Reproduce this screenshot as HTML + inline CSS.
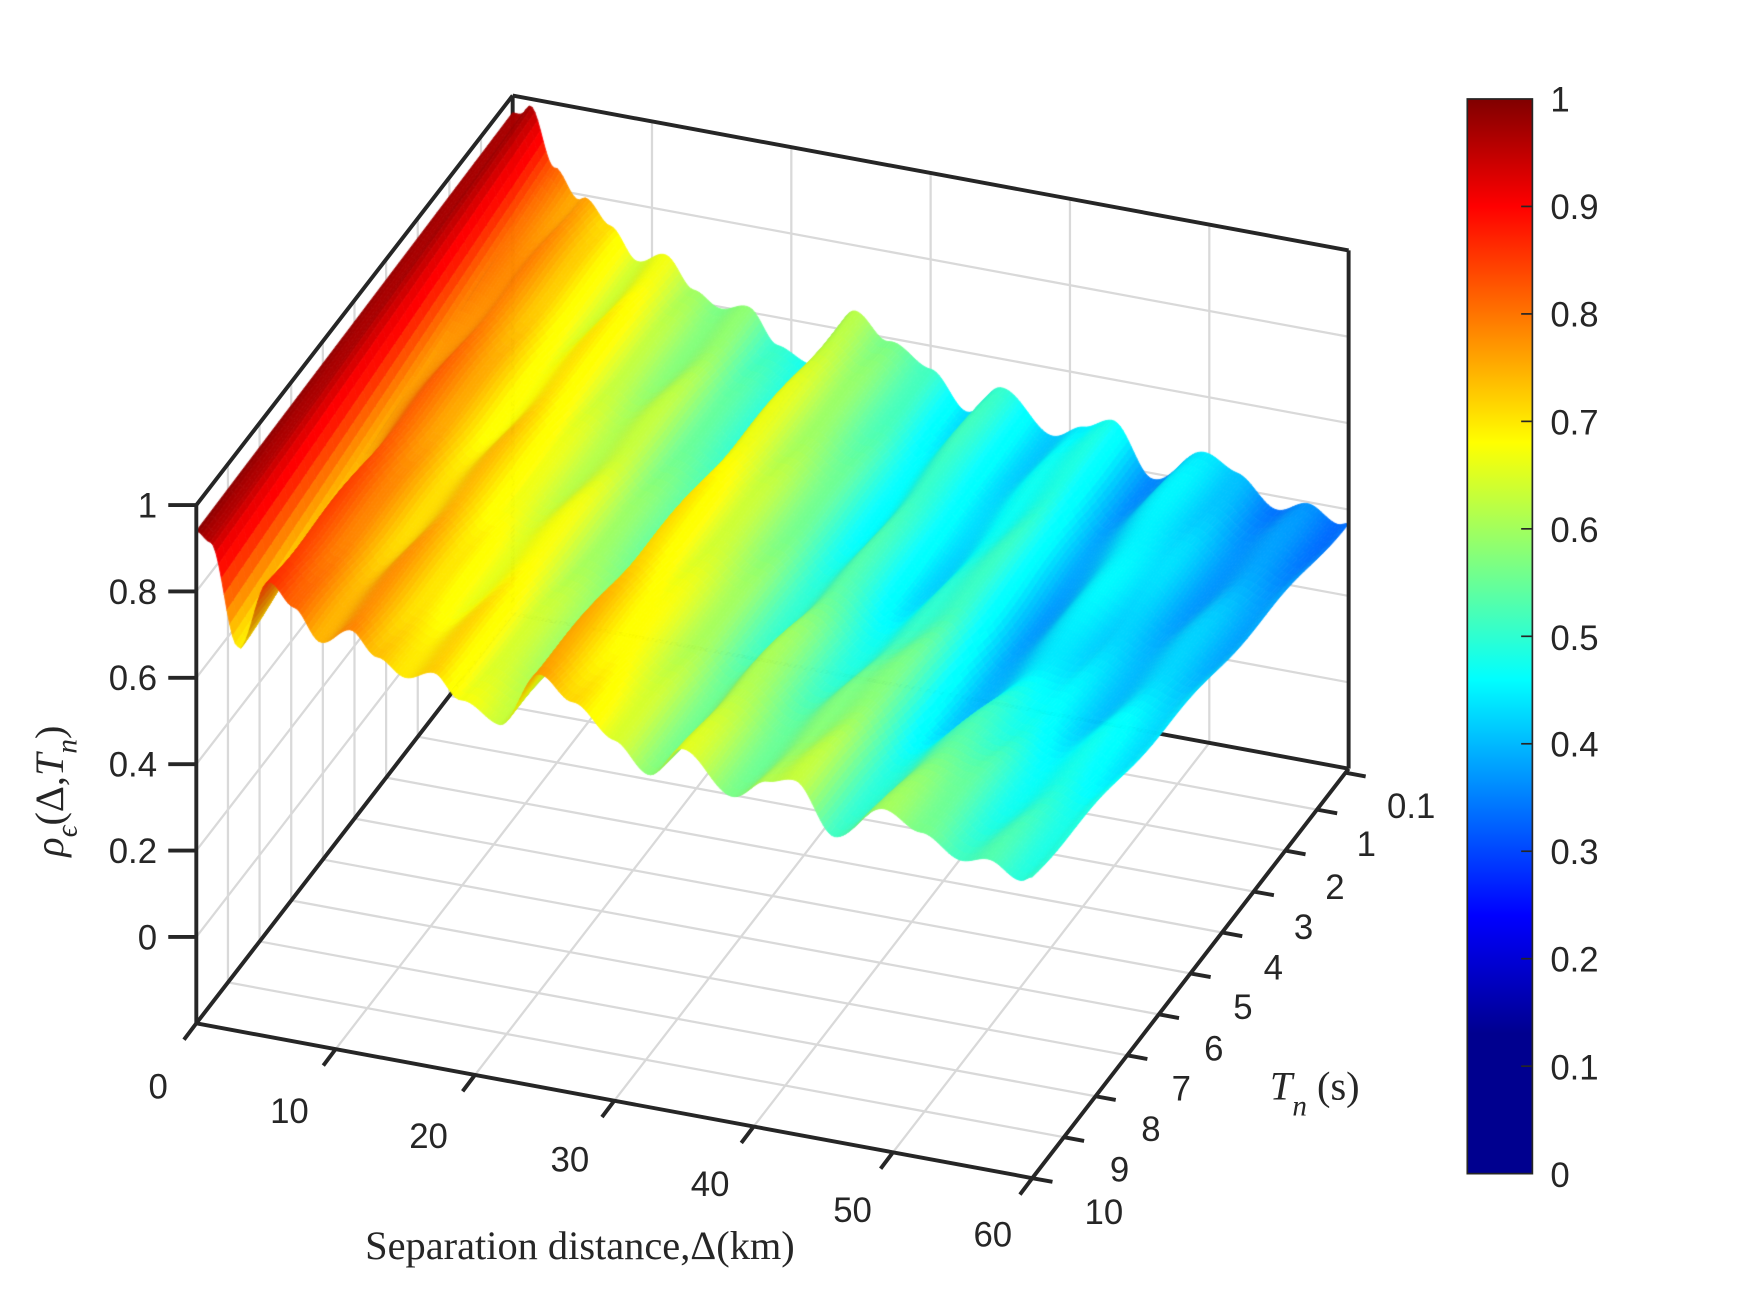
<!DOCTYPE html>
<html><head><meta charset="utf-8"><style>
html,body{margin:0;padding:0;background:#fff;}
#w{position:relative;width:1750px;height:1313px;overflow:hidden;}
svg,canvas{position:absolute;left:0;top:0;}
text{font-family:"Liberation Sans",Arial,sans-serif;fill:#262626;}
.s{font-family:"Liberation Serif","Times New Roman",serif;}
</style></head><body><div id="w">
<svg id="back" width="1750" height="1313" viewBox="0 0 1560 1170"></svg>
<canvas id="c" width="1750" height="1313"></canvas>
<svg id="front" width="1750" height="1313" viewBox="0 0 1560 1170">
<defs><linearGradient id="jet" x1="0" y1="1" x2="0" y2="0">
<stop offset="0" stop-color="#00008f"/><stop offset="0.13" stop-color="#00008f"/><stop offset="0.24" stop-color="#0000ff"/>
<stop offset="0.46" stop-color="#00ffff"/><stop offset="0.68" stop-color="#ffff00"/>
<stop offset="0.90" stop-color="#ff0000"/><stop offset="1" stop-color="#800000"/>
</linearGradient></defs>
<g id="ax"></g>
<rect x="1308" y="88" width="58" height="958" fill="url(#jet)" stroke="#262626" stroke-width="1.5"/>
<g id="cb"></g>
<g font-size="31" text-anchor="end">
<text x="140" y="461">1</text><text x="140" y="538">0.8</text><text x="140" y="615">0.6</text>
<text x="140" y="692">0.4</text><text x="140" y="769">0.2</text><text x="140" y="846">0</text>
</g>
<g font-size="31" text-anchor="middle">
<text x="141" y="979">0</text><text x="258" y="1001">10</text><text x="382" y="1023">20</text>
<text x="508" y="1044">30</text><text x="633" y="1066">40</text><text x="760" y="1089">50</text><text x="885" y="1111">60</text>
<text x="1258" y="729">0.1</text><text x="1218" y="763">1</text><text x="1190" y="801">2</text>
<text x="1162" y="837">3</text><text x="1135" y="873">4</text><text x="1108" y="908">5</text>
<text x="1082" y="945">6</text><text x="1053" y="981">7</text><text x="1026" y="1017">8</text>
<text x="998" y="1053">9</text><text x="984" y="1091">10</text>
</g>
<g font-size="31" text-anchor="start">
<text x="1382" y="99">1</text><text x="1382" y="195">0.9</text><text x="1382" y="291">0.8</text>
<text x="1382" y="387">0.7</text><text x="1382" y="483">0.6</text><text x="1382" y="579">0.5</text>
<text x="1382" y="674">0.4</text><text x="1382" y="770">0.3</text><text x="1382" y="866">0.2</text>
<text x="1382" y="962">0.1</text><text x="1382" y="1058">0</text>
</g>
<text class="s" x="517" y="1122" font-size="36" text-anchor="middle">Separation distance,Δ(km)</text>
<text class="s" x="1132" y="980" font-size="36"><tspan font-style="italic">T</tspan><tspan font-style="italic" font-size="26" dy="14">n</tspan><tspan dy="-14"> (s)</tspan></text>
<text class="s" transform="translate(56,705) rotate(-90)" font-size="36" text-anchor="middle"><tspan font-style="italic">ρ</tspan><tspan font-style="italic" font-size="26" dy="12">ϵ</tspan><tspan dy="-12">(Δ,</tspan><tspan font-style="italic">T</tspan><tspan font-style="italic" font-size="26" dy="12">n</tspan><tspan dy="-12">)</tspan></text>
</svg>
</div>
<script>
function P(d,t,z){return [175+12.42*d+28.2*(10-t), 912+2.3*d-36.5*(10-t)-385*(z+0.2)];}
function L(a,b,col,w){return '<line x1="'+a[0].toFixed(1)+'" y1="'+a[1].toFixed(1)+'" x2="'+b[0].toFixed(1)+'" y2="'+b[1].toFixed(1)+'" stroke="'+col+'" stroke-width="'+w+'"/>';}
var g='',G='#d9d9d9',zs=[0,0.2,0.4,0.6,0.8];
for(var d=10;d<=50;d+=10){g+=L(P(d,0,-0.2),P(d,0,1),G,2);g+=L(P(d,0,-0.2),P(d,10,-0.2),G,2);}
zs.forEach(function(z){g+=L(P(0,0,z),P(60,0,z),G,2);g+=L(P(0,0,z),P(0,10,z),G,2);});
for(var t=1;t<=9;t++){g+=L(P(0,t,-0.2),P(0,t,1),G,2);g+=L(P(0,t,-0.2),P(60,t,-0.2),G,2);}
var K='#262626';
g+=L(P(0,0,1),P(0,0,-0.2),K,3.5);g+=L(P(60,0,-0.2),P(0,0,-0.2),K,3.5);g+=L(P(0,10,-0.2),P(0,0,-0.2),K,3.5);
document.getElementById('back').innerHTML=g;
var a='';
a+=L(P(0,10,-0.2),P(0,10,1),K,3.5);a+=L(P(0,10,1),P(0,0,1),K,3.5);a+=L(P(0,0,1),P(60,0,1),K,3.5);
a+=L(P(60,0,1),P(60,0,-0.2),K,3.5);a+=L(P(60,0,-0.2),P(60,10,-0.2),K,3.5);a+=L(P(60,10,-0.2),P(0,10,-0.2),K,3.5);
[0,0.2,0.4,0.6,0.8,1].forEach(function(z){var p=P(0,10,z);a+=L(p,[p[0]-25,p[1]],K,3.5);});
for(var d=0;d<=60;d+=10){var p=P(d,10,-0.2);a+=L(p,[p[0]-11,p[1]+14.6],K,3.5);}
[0.1,1,2,3,4,5,6,7,8,9,10].forEach(function(t){var p=P(60,t,-0.2);a+=L(p,[p[0]+18,p[1]+3.3],K,3.5);});
document.getElementById('ax').innerHTML=a;
var cb='';for(var i=1;i<10;i++){var y=1046-95.8*i;cb+=L([1366,y],[1356,y],K,1.5);}
document.getElementById('cb').innerHTML=cb;

var F=[[0,0.94],[1,0.92],[3,0.69],[5.2,0.85],[7,0.8],[8.9,0.74],[11,0.78],[13,0.72],[14.9,0.69],[17,0.72],[19,0.66],[21.7,0.62],[24.6,0.76],[27,0.7],[30,0.64],[32.6,0.57],[35,0.64],[38.6,0.56],[41,0.6],[43,0.62],[45.9,0.51],[49.5,0.59],[52,0.56],[55,0.50],[57,0.52],[59.2,0.49],[60,0.5]];
var Kd=[[0,-0.02],[3,-0.16],[5,0.05],[10,0.08],[20,0.12],[30,0.1],[45,0.12],[60,0.13]];
function I(A,x){for(var i=0;i<A.length-1;i++){if(x<=A[i+1][0]){var u=(x-A[i][0])/(A[i+1][0]-A[i][0]);u=(1-Math.cos(Math.PI*u))/2;return A[i][1]+(A[i+1][1]-A[i][1])*u;}}return A[A.length-1][1];}
function Z(d,t){var u=t/10;var z=I(F,d)-I(Kd,d)*(1-u);
 z-=0.07*Math.exp(-((d-49)*(d-49))/30-((t-5)*(t-5))/6);
 z-=0.05*Math.exp(-((d-37)*(d-37))/20-((t-4)*(t-4))/6);
 z+=0.006*Math.sin(t*2.1+d*0.9)*(d>3?1:0);return z;}
function jet(v){v=(v-0.13)/0.88;v=Math.max(0,Math.min(1,v));function c(x){return Math.max(0,Math.min(1,1.5-Math.abs(x)));}return [c(4*v-3),c(4*v-2),c(4*v-1)];}
var cv=document.getElementById('c'),ctx=cv.getContext('2d');ctx.scale(1750/1560,1313/1170);
var Nd=300,Nt=50,q=[];
for(var j=0;j<Nt;j++)for(var i=0;i<Nd;i++){
 var d0=60*i/Nd,d1=60*(i+1)/Nd,t0=10*j/Nt,t1=10*(j+1)/Nt;
 var z00=Z(d0,t0),z10=Z(d1,t0),z11=Z(d1,t1),z01=Z(d0,t1);
 var zm=(z00+z10+z11+z01)/4,tm=(t0+t1)/2;
 var sl=((z10+z11)-(z00+z01))/2/(d1-d0);
 var extra=(d0<3)?0.05*(1-d0/3):0;
 var col=jet(zm-0.03+0.04*tm/10+extra),f=Math.max(0.8,Math.min(1.06,1-1.5*sl));
 q.push({k:2.3*(d0+d1)/2+36.5*tm,p:[P(d0,t0,z00),P(d1,t0,z10),P(d1,t1,z11),P(d0,t1,z01)],c:'rgb('+Math.round(Math.min(255,col[0]*255*f))+','+Math.round(Math.min(255,col[1]*255*f))+','+Math.round(Math.min(255,col[2]*255*f))+')'});
}
q.sort(function(a,b){return a.k-b.k;});
q.forEach(function(o){ctx.beginPath();ctx.moveTo(o.p[0][0],o.p[0][1]);for(var m=1;m<4;m++)ctx.lineTo(o.p[m][0],o.p[m][1]);ctx.closePath();ctx.fillStyle=o.c;ctx.strokeStyle=o.c;ctx.lineWidth=0.8;ctx.fill();ctx.stroke();});
</script>
</body></html>
